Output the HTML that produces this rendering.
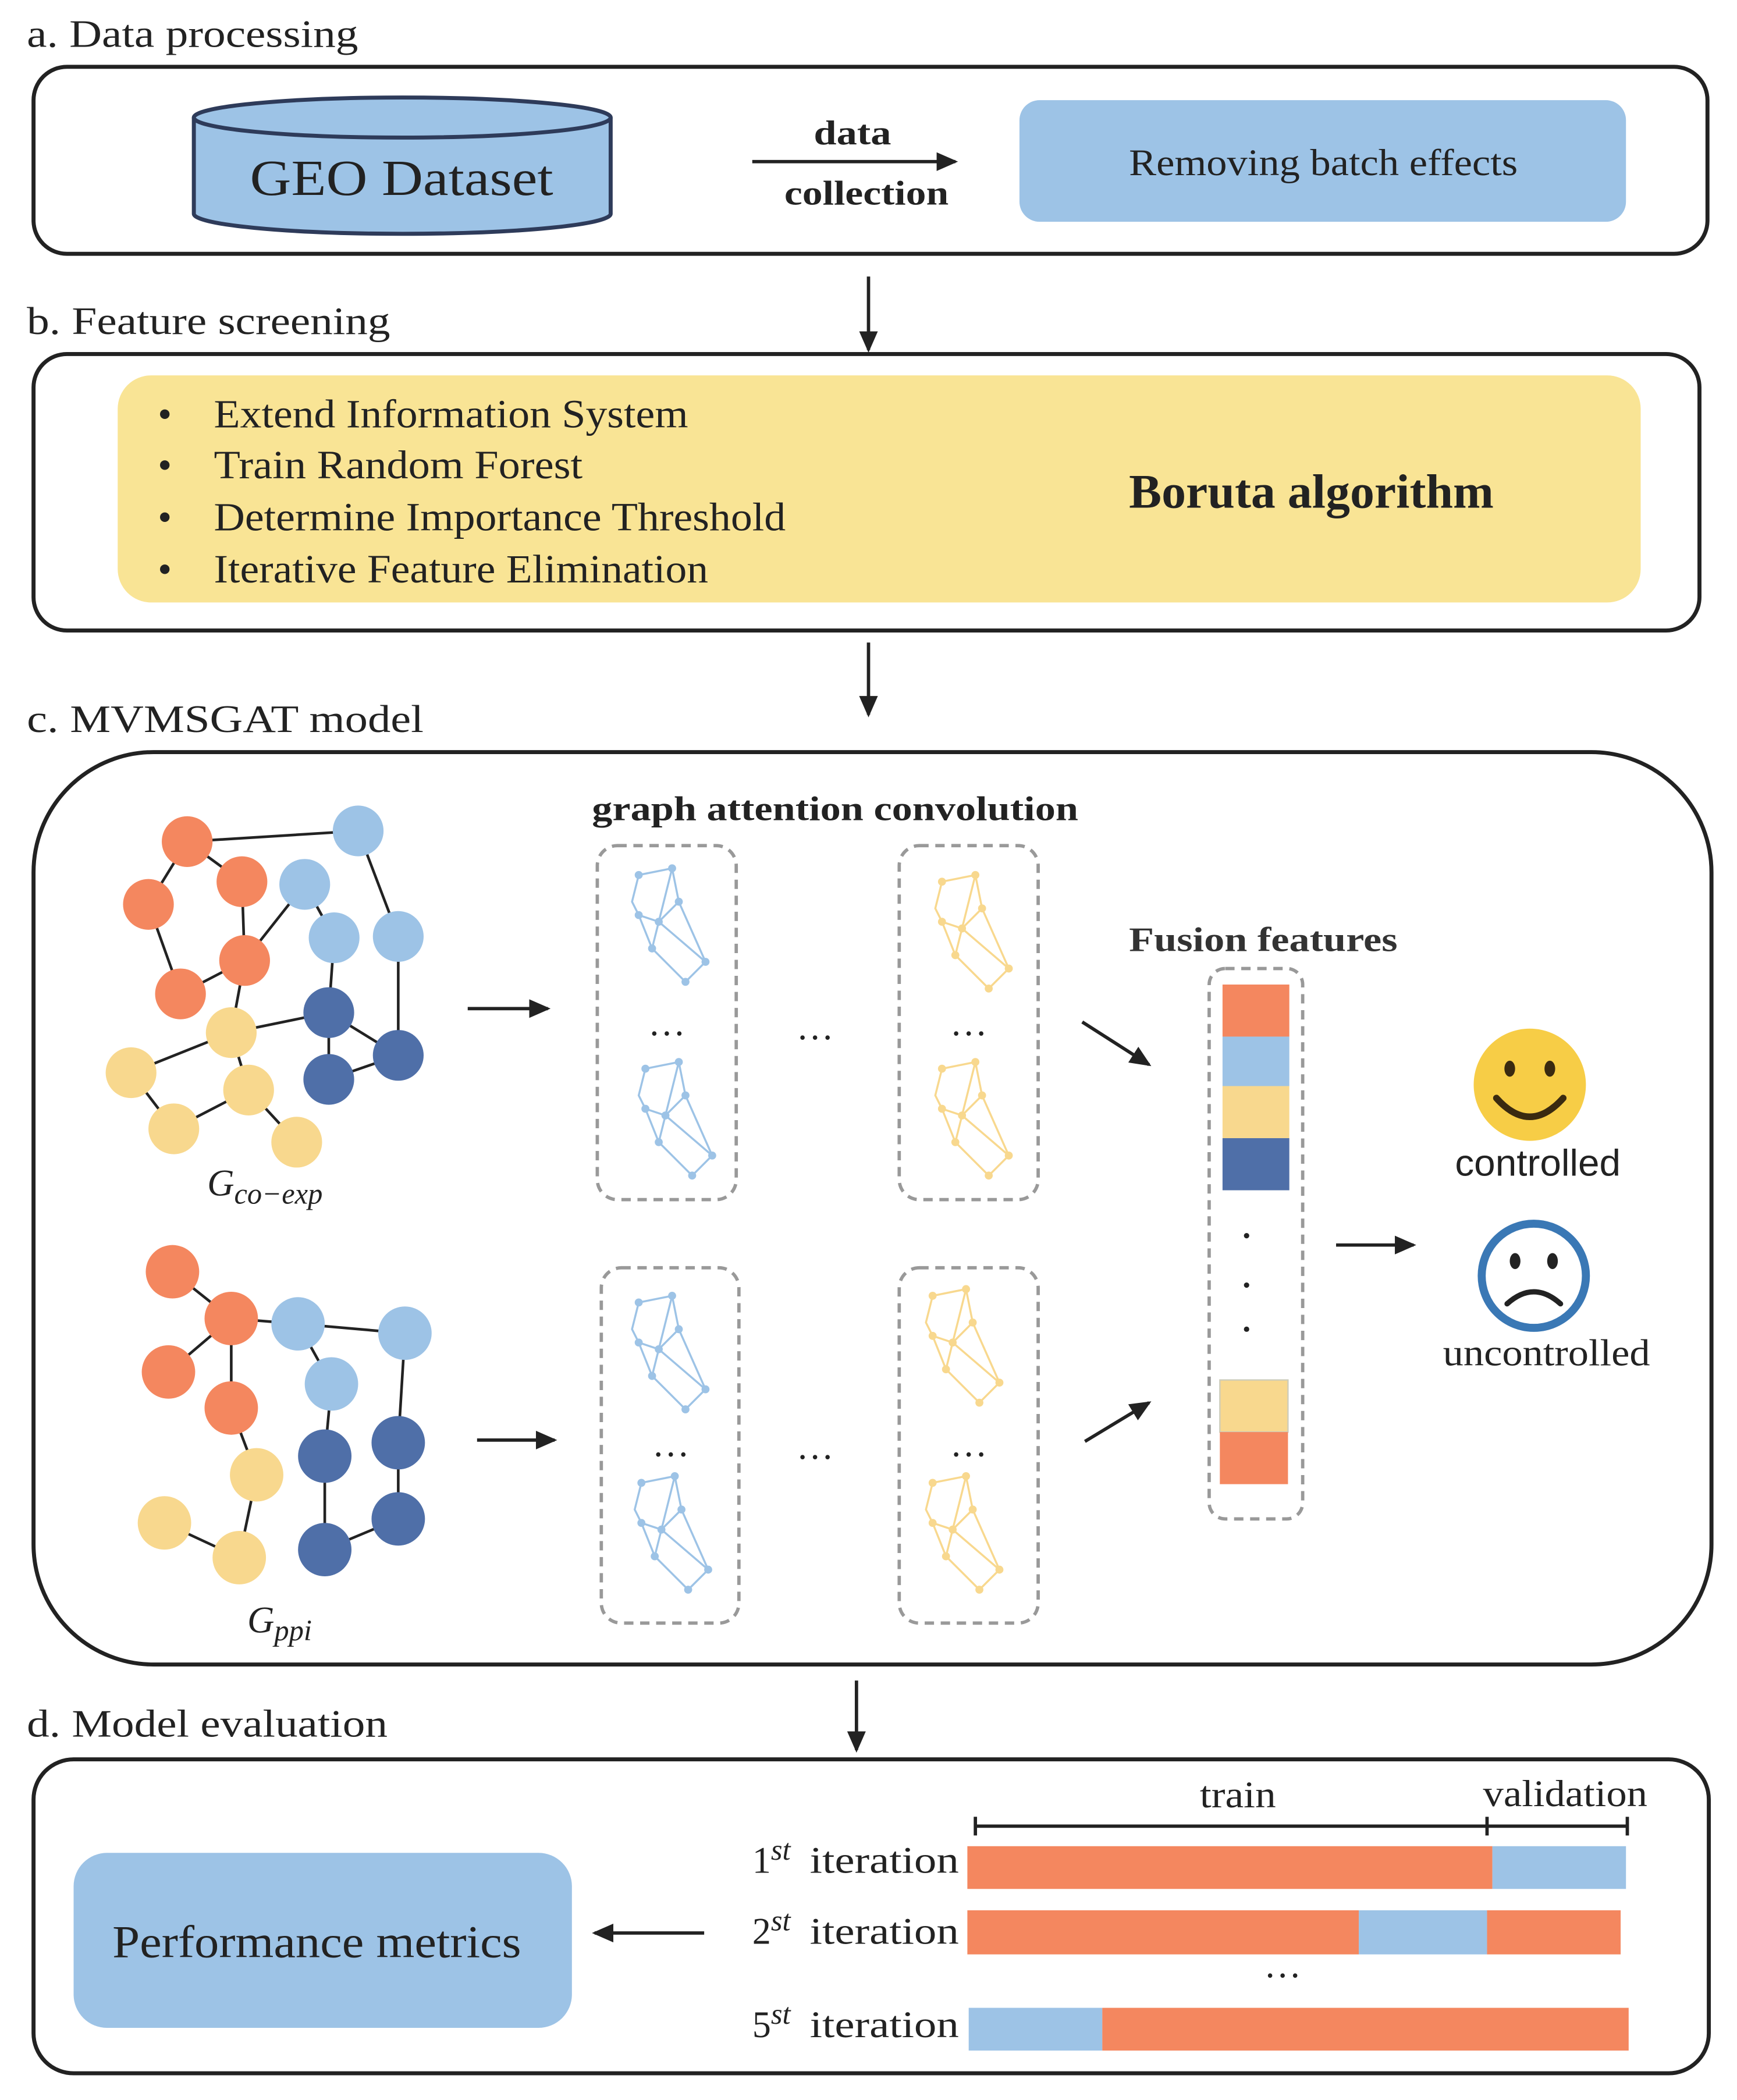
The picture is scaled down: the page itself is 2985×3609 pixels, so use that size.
<!DOCTYPE html>
<html><head><meta charset="utf-8"><style>html,body{margin:0;padding:0;background:#fff}svg{display:block}</style></head>
<body>
<svg width="2985" height="3609" viewBox="0 0 1300 1572" xmlns="http://www.w3.org/2000/svg" font-family="'Liberation Serif', serif">
<defs>
<marker id="ah2" markerWidth="16" markerHeight="14" refX="14" refY="7" orient="auto" markerUnits="userSpaceOnUse"><path d="M0,0 L16,7 L0,14 z" fill="#222"/></marker>
<g id="mb" stroke="#9dc3e6" stroke-width="1.5" fill="none">
<path d="M30,20 L55,15 L60,40 L80,85 L65,100 L40,75 L30,50 L25,40 L30,20 M55,15 L40,75 M60,40 L45,55 L80,85 M30,50 L45,55 M40,75 L65,100"/>
<g fill="#9dc3e6" stroke="none"><circle cx="30" cy="20" r="3"/><circle cx="55" cy="15" r="3"/><circle cx="60" cy="40" r="3"/><circle cx="80" cy="85" r="3"/><circle cx="65" cy="100" r="3"/><circle cx="40" cy="75" r="3"/><circle cx="30" cy="50" r="3"/><circle cx="45" cy="55" r="3"/></g>
</g>
<g id="my" stroke="#f8d88e" stroke-width="1.5" fill="none">
<path d="M30,20 L55,15 L60,40 L80,85 L65,100 L40,75 L30,50 L25,40 L30,20 M55,15 L40,75 M60,40 L45,55 L80,85 M30,50 L45,55 M40,75 L65,100"/>
<g fill="#f8d88e" stroke="none"><circle cx="30" cy="20" r="3"/><circle cx="55" cy="15" r="3"/><circle cx="60" cy="40" r="3"/><circle cx="80" cy="85" r="3"/><circle cx="65" cy="100" r="3"/><circle cx="40" cy="75" r="3"/><circle cx="30" cy="50" r="3"/><circle cx="45" cy="55" r="3"/></g>
</g>
</defs>
<rect width="1300" height="1572" fill="#fff"/>
<g font-size="29" fill="#222">
<text x="20" y="35" textLength="248" lengthAdjust="spacingAndGlyphs">a. Data processing</text>
<text x="20" y="250" textLength="272" lengthAdjust="spacingAndGlyphs">b. Feature screening</text>
<text x="20" y="548" textLength="297" lengthAdjust="spacingAndGlyphs">c. MVMSGAT model</text>
<text x="20" y="1300" textLength="270" lengthAdjust="spacingAndGlyphs">d. Model evaluation</text>
</g>
<!-- a -->
<rect x="25" y="50" width="1253" height="140" rx="25" fill="none" stroke="#222" stroke-width="3"/>
<path d="M145,88 L145,160 A156,15 0 0 0 457,160 L457,88" fill="#9dc3e6" stroke="#2e3b5a" stroke-width="3"/>
<ellipse cx="301" cy="88" rx="156" ry="15" fill="#9dc3e6" stroke="#2e3b5a" stroke-width="3"/>
<text x="187" y="146" font-size="38" textLength="227" lengthAdjust="spacingAndGlyphs" fill="#222">GEO Dataset</text>
<line x1="563" y1="121" x2="715" y2="121" stroke="#222" stroke-width="2.5" marker-end="url(#ah2)"/>
<text x="609" y="108" font-size="26" font-weight="bold" textLength="58" lengthAdjust="spacingAndGlyphs" fill="#222">data</text>
<text x="587" y="153" font-size="26" font-weight="bold" textLength="123" lengthAdjust="spacingAndGlyphs" fill="#222">collection</text>
<rect x="763" y="75" width="454" height="91" rx="15" fill="#9dc3e6"/>
<text x="845" y="131" font-size="28" textLength="291" lengthAdjust="spacingAndGlyphs" fill="#222">Removing batch effects</text>
<line x1="650" y1="207" x2="650" y2="262" stroke="#222" stroke-width="2.5" marker-end="url(#ah2)"/>
<!-- b -->
<rect x="25" y="265" width="1247" height="207" rx="25" fill="none" stroke="#222" stroke-width="3"/>
<rect x="88" y="281" width="1140" height="170" rx="25" fill="#f9e495"/>
<g font-size="30" fill="#222">
<text x="118" y="320">•</text><text x="160" y="320" textLength="355" lengthAdjust="spacingAndGlyphs">Extend Information System</text>
<text x="118" y="358">•</text><text x="160" y="358" textLength="276" lengthAdjust="spacingAndGlyphs">Train Random Forest</text>
<text x="118" y="397">•</text><text x="160" y="397" textLength="428" lengthAdjust="spacingAndGlyphs">Determine Importance Threshold</text>
<text x="118" y="436">•</text><text x="160" y="436" textLength="370" lengthAdjust="spacingAndGlyphs">Iterative Feature Elimination</text>
</g>
<text x="845" y="380" font-size="36" font-weight="bold" textLength="273" lengthAdjust="spacingAndGlyphs" fill="#222">Boruta algorithm</text>
<line x1="650" y1="481" x2="650" y2="535" stroke="#222" stroke-width="2.5" marker-end="url(#ah2)"/>
<!-- c -->
<rect x="25" y="563" width="1256" height="683" rx="90" fill="none" stroke="#222" stroke-width="3"/>
<g stroke="#222" stroke-width="2">
<path d="M140,630 L111,677 M140,630 L268,622 M140,630 L181,660 M181,660 L183,719 M111,677 L135,744 M183,719 L135,744 M183,719 L228,662 M268,622 L298,701 M228,662 L250,702 M298,701 L298,790 M246,758 L298,790 M246,758 L250,702 M246,758 L246,808 M246,808 L298,790 M183,719 L173,773 M173,773 L98,803 M173,773 L246,758 M186,816 L130,845 M186,816 L222,855 M130,845 L98,803 M173,773 L186,816"/>
<path d="M129,952 L173,987 M173,987 L223,991 M173,987 L126,1027 M173,987 L173,1054 M223,991 L303,998 M223,991 L248,1036 M303,998 L298,1080 M248,1036 L243,1090 M243,1090 L243,1160 M243,1160 L298,1137 M298,1080 L298,1137 M173,1054 L192,1104 M192,1104 L179,1166 M123,1140 L179,1166"/>
</g>
<g>
<g fill="#f4875f"><circle cx="140" cy="630" r="19"/><circle cx="181" cy="660" r="19"/><circle cx="111" cy="677" r="19"/><circle cx="183" cy="719" r="19"/><circle cx="135" cy="744" r="19"/>
<circle cx="129" cy="952" r="20"/><circle cx="173" cy="987" r="20"/><circle cx="126" cy="1027" r="20"/><circle cx="173" cy="1054" r="20"/></g>
<g fill="#9dc3e6"><circle cx="268" cy="622" r="19"/><circle cx="228" cy="662" r="19"/><circle cx="250" cy="702" r="19"/><circle cx="298" cy="701" r="19"/>
<circle cx="223" cy="991" r="20"/><circle cx="303" cy="998" r="20"/><circle cx="248" cy="1036" r="20"/></g>
<g fill="#4f6fa8"><circle cx="246" cy="758" r="19"/><circle cx="298" cy="790" r="19"/><circle cx="246" cy="808" r="19"/>
<circle cx="298" cy="1080" r="20"/><circle cx="243" cy="1090" r="20"/><circle cx="298" cy="1137" r="20"/><circle cx="243" cy="1160" r="20"/></g>
<g fill="#f8d88e"><circle cx="173" cy="773" r="19"/><circle cx="98" cy="803" r="19"/><circle cx="186" cy="816" r="19"/><circle cx="130" cy="845" r="19"/><circle cx="222" cy="855" r="19"/>
<circle cx="192" cy="1104" r="20"/><circle cx="123" cy="1140" r="20"/><circle cx="179" cy="1166" r="20"/></g>
</g>
<text x="155" y="895" font-size="28" font-style="italic" fill="#222">G<tspan font-size="22" dy="6">co−exp</tspan></text>
<text x="185" y="1222" font-size="28" font-style="italic" fill="#222">G<tspan font-size="22" dy="6">ppi</tspan></text>
<g stroke="#222" stroke-width="2.5">
<line x1="350" y1="755" x2="410" y2="755" marker-end="url(#ah2)"/>
<line x1="357" y1="1078" x2="415" y2="1078" marker-end="url(#ah2)"/>
<line x1="810" y1="765" x2="860" y2="797" marker-end="url(#ah2)"/>
<line x1="812" y1="1079" x2="860" y2="1050" marker-end="url(#ah2)"/>
<line x1="1000" y1="932" x2="1058" y2="932" marker-end="url(#ah2)"/>
</g>
<text x="443" y="614" font-size="26" font-weight="bold" textLength="364" lengthAdjust="spacingAndGlyphs" fill="#222">graph attention convolution</text>
<text x="845" y="712" font-size="26" font-weight="bold" textLength="201" lengthAdjust="spacingAndGlyphs" fill="#333">Fusion features</text>
<g fill="none" stroke="#999" stroke-width="2.5" stroke-dasharray="7,5">
<rect x="447" y="633" width="104" height="265" rx="15"/>
<rect x="673" y="633" width="104" height="265" rx="15"/>
<rect x="450" y="949" width="103" height="266" rx="15"/>
<rect x="673" y="949" width="104" height="266" rx="15"/>
<rect x="905" y="725" width="70" height="412" rx="12"/>
</g>
<use href="#mb" x="448" y="635"/><use href="#mb" x="453" y="780"/>
<use href="#my" x="675" y="640"/><use href="#my" x="675" y="780"/>
<use href="#mb" x="448" y="955"/><use href="#mb" x="450" y="1090"/>
<use href="#my" x="668" y="950"/><use href="#my" x="668" y="1090"/>
<g font-size="28" fill="#222" text-anchor="middle">
<text x="499" y="775">…</text><text x="725" y="775">…</text><text x="610" y="778">…</text>
<text x="502" y="1090">…</text><text x="725" y="1090">…</text><text x="610" y="1092">…</text>
</g>
<rect x="915" y="737" width="50" height="39" fill="#f4875f"/>
<rect x="915" y="776" width="50" height="37" fill="#9dc3e6"/>
<rect x="915" y="813" width="50" height="39" fill="#f8d88e"/>
<rect x="915" y="852" width="50" height="39" fill="#4f6fa8"/>
<g fill="#222"><circle cx="933" cy="925" r="2"/><circle cx="933" cy="962" r="2"/><circle cx="933" cy="995" r="2"/></g>
<rect x="913" y="1033" width="51" height="39" fill="#f8d88e" stroke="#ccb" stroke-width="1"/>
<rect x="913" y="1072" width="51" height="39" fill="#f4875f"/>
<circle cx="1145" cy="812" r="42" fill="#f7cd46"/>
<ellipse cx="1130" cy="800" rx="4" ry="6" fill="#3a2a10"/><ellipse cx="1160" cy="800" rx="4" ry="6" fill="#3a2a10"/>
<path d="M1120,822 Q1145,850 1170,822" fill="none" stroke="#3a2a10" stroke-width="5" stroke-linecap="round"/>
<text x="1089" y="880" font-size="28" font-family="'Liberation Sans', sans-serif" textLength="124" lengthAdjust="spacingAndGlyphs" fill="#222">controlled</text>
<circle cx="1148" cy="955" r="39" fill="#fff" stroke="#3a78b5" stroke-width="6"/>
<ellipse cx="1134" cy="944" rx="4" ry="6" fill="#222"/><ellipse cx="1162" cy="944" rx="4" ry="6" fill="#222"/>
<path d="M1128,976 Q1148,958 1168,976" fill="none" stroke="#222" stroke-width="4" stroke-linecap="round"/>
<text x="1080" y="1022" font-size="28" textLength="155" lengthAdjust="spacingAndGlyphs" fill="#222">uncontrolled</text>
<line x1="641" y1="1258" x2="641" y2="1310" stroke="#222" stroke-width="2.5" marker-end="url(#ah2)"/>
<!-- d -->
<rect x="25" y="1317" width="1254" height="235" rx="30" fill="none" stroke="#222" stroke-width="3"/>
<rect x="55" y="1387" width="373" height="131" rx="25" fill="#9dc3e6"/>
<text x="84" y="1465" font-size="34" textLength="306" lengthAdjust="spacingAndGlyphs" fill="#222">Performance metrics</text>
<line x1="527" y1="1447" x2="445" y2="1447" stroke="#222" stroke-width="2.5" marker-end="url(#ah2)"/>
<text x="898" y="1353" font-size="28" textLength="57" lengthAdjust="spacingAndGlyphs" fill="#222">train</text>
<text x="1110" y="1352" font-size="28" textLength="123" lengthAdjust="spacingAndGlyphs" fill="#222">validation</text>
<g stroke="#222" stroke-width="2.5"><line x1="730" y1="1367" x2="1218" y2="1367"/><line x1="730" y1="1360" x2="730" y2="1374"/><line x1="1113" y1="1360" x2="1113" y2="1374"/><line x1="1218" y1="1360" x2="1218" y2="1374"/></g>
<rect x="724" y="1382" width="393" height="32" fill="#f4875f"/><rect x="1117" y="1382" width="100" height="32" fill="#9dc3e6"/>
<rect x="724" y="1430" width="293" height="33" fill="#f4875f"/><rect x="1017" y="1430" width="96" height="33" fill="#9dc3e6"/><rect x="1113" y="1430" width="100" height="33" fill="#f4875f"/>
<rect x="725" y="1503" width="100" height="32" fill="#9dc3e6"/><rect x="825" y="1503" width="394" height="32" fill="#f4875f"/>
<g font-size="28" fill="#222">
<text x="563" y="1402">1<tspan font-size="22" font-style="italic" dy="-10">st</tspan><tspan dy="10" dx="6" textLength="120" lengthAdjust="spacingAndGlyphs"> iteration</tspan></text>
<text x="563" y="1455">2<tspan font-size="22" font-style="italic" dy="-10">st</tspan><tspan dy="10" dx="6" textLength="120" lengthAdjust="spacingAndGlyphs"> iteration</tspan></text>
<text x="563" y="1525">5<tspan font-size="22" font-style="italic" dy="-10">st</tspan><tspan dy="10" dx="6" textLength="120" lengthAdjust="spacingAndGlyphs"> iteration</tspan></text>
</g>
<text x="960" y="1480" font-size="28" text-anchor="middle" fill="#222">…</text>
</svg>
</body></html>
